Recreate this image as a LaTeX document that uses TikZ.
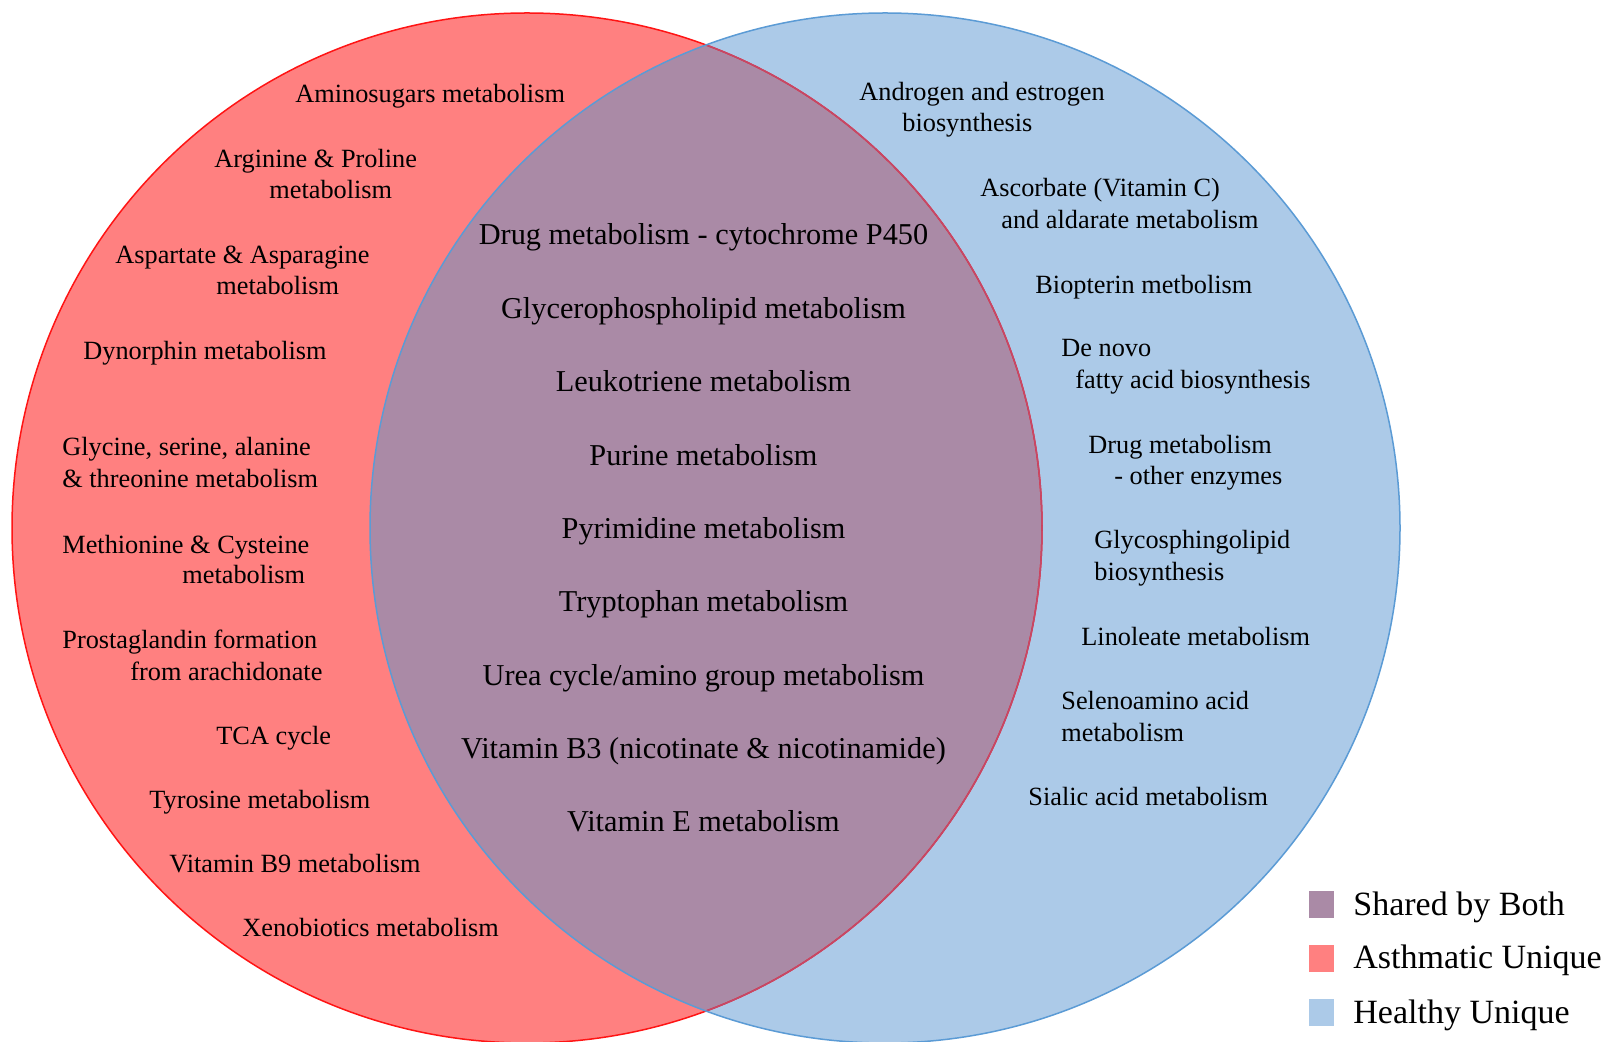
\documentclass[tikz,border=0pt]{standalone}
\usepackage{fontspec}
\setmainfont{Liberation Serif}
\definecolor{redfill}{RGB}{255,128,128}
\definecolor{bluefill}{RGB}{172,202,232}
\definecolor{overlapfill}{RGB}{170,138,166}
\definecolor{redline}{RGB}{255,20,20}
\definecolor{blueline}{RGB}{91,155,213}
\definecolor{innerred}{RGB}{196,72,104}
\begin{document}
\begin{tikzpicture}[x=0.5pt,y=-0.5pt,
  outer/.style={anchor=base west, inner sep=0pt, font=\fontsize{13.15}{15}\selectfont},
  shared/.style={anchor=base, inner sep=0pt, font=\fontsize{15.15}{18}\selectfont},
  legtext/.style={anchor=base west, inner sep=0pt, font=\fontsize{17}{20}\selectfont},
  legbox/.style={minimum width=12.5pt, minimum height=13.5pt, inner sep=0pt, anchor=north west}]
\useasboundingbox[fill=white] (0,0) rectangle (1608,1042);
\coordinate (rc) at (527,528);
\coordinate (bc) at (885,528);
\fill[redfill] (rc) circle[radius=515];
\fill[bluefill] (bc) circle[radius=515];
\begin{scope}
  \clip (rc) circle[radius=515];
  \fill[overlapfill] (bc) circle[radius=515];
\end{scope}
\draw[redline, line width=0.75pt] (rc) circle[radius=515];
\begin{scope}
  \clip (bc) circle[radius=515];
  \draw[innerred, line width=0.75pt] (rc) circle[radius=515];
\end{scope}
\draw[blueline, line width=0.75pt] (bc) circle[radius=515];

% Asthmatic unique
\node[outer] (a1) at (295,103) {Aminosugars metabolism};
\node[outer] (a2) at (214,168) {Arginine \& Proline};
\node[outer] (a2b) at (269,199) {metabolism};
\node[outer] (a3) at (115,264) {Aspartate \& Asparagine};
\node[outer] (a3b) at (216,295) {metabolism};
\node[outer] (a4) at (83,360) {Dynorphin metabolism};
\node[outer] (a5) at (62,456) {Glycine, serine, alanine};
\node[outer] (a5b) at (62,488) {\& threonine metabolism};
\node[outer] (a6) at (62,554) {Methionine \& Cysteine};
\node[outer] (a6b) at (182,584) {metabolism};
\node[outer] (a7) at (62,649) {Prostaglandin formation};
\node[outer] (a7b) at (130,681) {from arachidonate};
\node[outer] (a8) at (216,745) {TCA cycle};
\node[outer] (a9) at (149,809) {Tyrosine metabolism};
\node[outer] (a10) at (169,873) {Vitamin B9 metabolism};
\node[outer] (a11) at (242,936) {Xenobiotics metabolism};

% Healthy unique
\node[outer] (h1) at (859,101) {Androgen and estrogen};
\node[outer] (h1b) at (902,132) {biosynthesis};
\node[outer] (h2) at (980,197) {Ascorbate (Vitamin C)};
\node[outer] (h2b) at (1001,229) {and aldarate metabolism};
\node[outer] (h3) at (1035,294) {Biopterin metbolism};
\node[outer] (h4) at (1061,357) {De novo};
\node[outer] (h4b) at (1075,389) {fatty acid biosynthesis};
\node[outer] (h5) at (1088,454) {Drug metabolism};
\node[outer] (h5b) at (1114,485) {- other enzymes};
\node[outer] (h6) at (1094,549) {Glycosphingolipid};
\node[outer] (h6b) at (1094,581) {biosynthesis};
\node[outer] (h7) at (1081,646) {Linoleate metabolism};
\node[outer] (h8) at (1061,710) {Selenoamino acid};
\node[outer] (h8b) at (1061,742) {metabolism};
\node[outer] (h9) at (1028,806) {Sialic acid metabolism};

% Shared
\node[shared] (s1) at (703.5,245) {Drug metabolism - cytochrome P450};
\node[shared] (s2) at (703.5,318.5) {Glycerophospholipid metabolism};
\node[shared] (s3) at (703.5,392) {Leukotriene metabolism};
\node[shared] (s4) at (703.5,465.5) {Purine metabolism};
\node[shared] (s5) at (703.5,539) {Pyrimidine metabolism};
\node[shared] (s6) at (703.5,612) {Tryptophan metabolism};
\node[shared] (s7) at (703.5,685.5) {Urea cycle/amino group metabolism};
\node[shared] (s8) at (703.5,759) {Vitamin B3 (nicotinate \& nicotinamide)};
\node[shared] (s9) at (703.5,832) {Vitamin E metabolism};

% Legend
\node[legbox, fill=overlapfill] (l1) at (1309,891) {};
\node[legbox, fill=redfill] (l2) at (1309,945) {};
\node[legbox, fill=bluefill] (l3) at (1309,999) {};
\node[legtext] (t1) at (1353,916) {Shared by Both};
\node[legtext] (t2) at (1353,969) {Asthmatic Unique};
\node[legtext] (t3) at (1353,1023) {Healthy Unique};
\end{tikzpicture}
\end{document}
